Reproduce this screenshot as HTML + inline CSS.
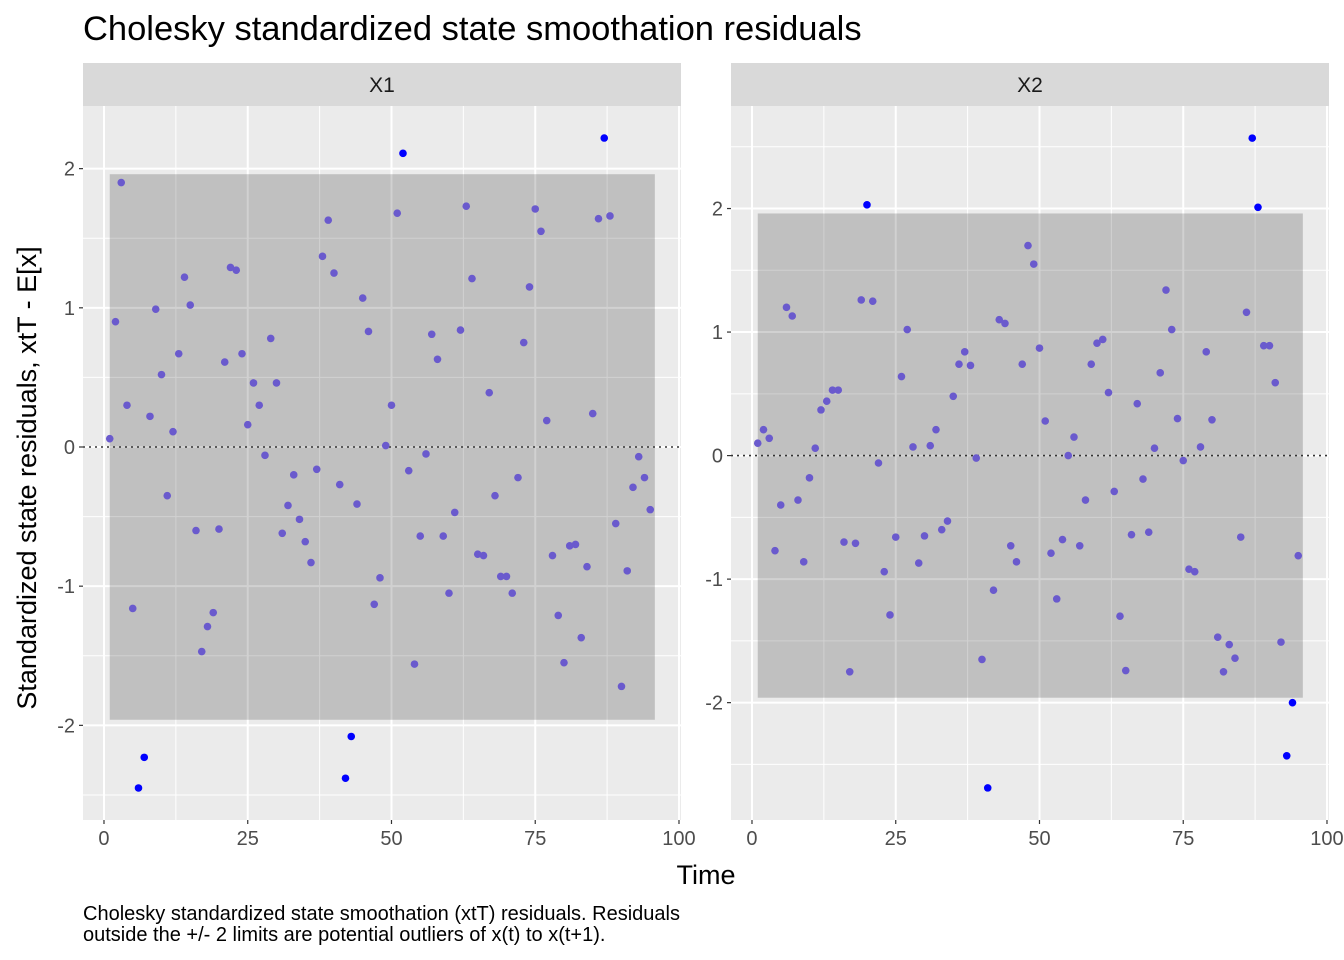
<!DOCTYPE html>
<html><head><meta charset="utf-8"><style>
body{margin:0;background:#fff;}
svg{display:block;font-family:"Liberation Sans",Arial,sans-serif;}
</style></head><body>
<svg id="chart" width="1344" height="960">
<text x="83" y="40" font-size="34.5" fill="#000">Cholesky standardized state smoothation residuals</text>
<text transform="translate(36,478) rotate(-90)" text-anchor="middle" font-size="27" fill="#000">Standardized state residuals, xtT - E[x]</text>
<text x="706" y="884" text-anchor="middle" font-size="27" fill="#000">Time</text>
<text x="83" y="920" font-size="20" fill="#000">Cholesky standardized state smoothation (xtT) residuals. Residuals</text>
<text x="83" y="941" font-size="20" fill="#000">outside the +/- 2 limits are potential outliers of x(t) to x(t+1).</text>
<g id="panels"></g>
</svg>
<script>
const xTicks=[0,25,50,75,100];
const x1Values=[0.06,0.90,1.90,0.30,-1.16,-2.45,-2.23,0.22,0.99,0.52,-0.35,0.11,0.67,1.22,1.02,-0.60,-1.47,-1.29,-1.19,-0.59,0.61,1.29,1.27,0.67,0.16,0.46,0.30,-0.06,0.78,0.46,-0.62,-0.42,-0.20,-0.52,-0.68,-0.83,-0.16,1.37,1.63,1.25,-0.27,-2.38,-2.08,-0.41,1.07,0.83,-1.13,-0.94,0.01,0.30,1.68,2.11,-0.17,-1.56,-0.64,-0.05,0.81,0.63,-0.64,-1.05,-0.47,0.84,1.73,1.21,-0.77,-0.78,0.39,-0.35,-0.93,-0.93,-1.05,-0.22,0.75,1.15,1.71,1.55,0.19,-0.78,-1.21,-1.55,-0.71,-0.70,-1.37,-0.86,0.24,1.64,2.22,1.66,-0.55,-1.72,-0.89,-0.29,-0.07,-0.22,-0.45];
const x2Values=[0.10,0.21,0.14,-0.77,-0.40,1.20,1.13,-0.36,-0.86,-0.18,0.06,0.37,0.44,0.53,0.53,-0.70,-1.75,-0.71,1.26,2.03,1.25,-0.06,-0.94,-1.29,-0.66,0.64,1.02,0.07,-0.87,-0.65,0.08,0.21,-0.60,-0.53,0.48,0.74,0.84,0.73,-0.02,-1.65,-2.69,-1.09,1.10,1.07,-0.73,-0.86,0.74,1.70,1.55,0.87,0.28,-0.79,-1.16,-0.68,0.00,0.15,-0.73,-0.36,0.74,0.91,0.94,0.51,-0.29,-1.30,-1.74,-0.64,0.42,-0.19,-0.62,0.06,0.67,1.34,1.02,0.30,-0.04,-0.92,-0.94,0.07,0.84,0.29,-1.47,-1.75,-1.53,-1.64,-0.66,1.16,2.57,2.01,0.89,0.89,0.59,-1.51,-2.43,-2.00,-0.81];
const yTicks=[-2,-1,0,1,2];
const limit=1.96;
const panelNames=["X1","X2"];
const NS="http://www.w3.org/2000/svg";
const gRoot=document.getElementById('panels');
function mk(tag,attrs,parent){const e=document.createElementNS(NS,tag);for(const k in attrs)e.setAttribute(k,attrs[k]);(parent||gRoot).appendChild(e);return e;}
const panels=[{left:83,right:681,yMin:-2.68,yMax:2.45,vals:x1Values},{left:731,right:1329,yMin:-2.95,yMax:2.83,vals:x2Values}];
const plotTop=106,plotBottom=820,xMin=-3.65,xMax=100.35;
panels.forEach((p,pi)=>{
  const sx=v=>p.left+(v-xMin)/(xMax-xMin)*(p.right-p.left);
  const sy=v=>plotBottom-(v-p.yMin)/(p.yMax-p.yMin)*(plotBottom-plotTop);
  const pg=mk('g',{});
  
  
  const bg=mk('rect',{x:p.left,y:plotTop,width:p.right-p.left,height:plotBottom-plotTop,fill:'#ebebeb'},pg);
  
  
  const strip=mk('rect',{x:p.left,y:63,width:p.right-p.left,height:43,fill:'#d9d9d9'},pg);
  
  
  const st=mk('text',{x:(p.left+p.right)/2,y:92,'text-anchor':'middle','font-size':'21',fill:'#1a1a1a'},pg);
  st.textContent=panelNames[pi];
  
  
  for(let i=0;i<xTicks.length-1;i++){const v=(xTicks[i]+xTicks[i+1])/2;
    const l=mk('line',{x1:sx(v),x2:sx(v),y1:plotTop,y2:plotBottom,stroke:'#fff','stroke-width':1},pg);
    
    }
  const ym=[-2.5,-1.5,-0.5,0.5,1.5,2.5];
  ym.forEach(v=>{if(v<p.yMin||v>p.yMax)return;
    const l=mk('line',{x1:p.left,x2:p.right,y1:sy(v),y2:sy(v),stroke:'#fff','stroke-width':1},pg);
    
    });
  xTicks.forEach(v=>{
    const l=mk('line',{x1:sx(v),x2:sx(v),y1:plotTop,y2:plotBottom,stroke:'#fff','stroke-width':2},pg);
    
    
    const tk=mk('line',{x1:sx(v),x2:sx(v),y1:plotBottom,y2:plotBottom+4,stroke:'#333','stroke-width':1.2},pg);
    
    
    const t=mk('text',{x:sx(v),y:plotBottom+25,'text-anchor':'middle','font-size':'20',fill:'#4d4d4d'},pg);
    t.textContent=v;
    
    
  });
  yTicks.forEach(v=>{
    const l=mk('line',{x1:p.left,x2:p.right,y1:sy(v),y2:sy(v),stroke:'#fff','stroke-width':2},pg);
    
    
    const tk=mk('line',{x1:p.left-4,x2:p.left,y1:sy(v),y2:sy(v),stroke:'#333','stroke-width':1.2},pg);
    
    
    const t=mk('text',{x:p.left-8,y:sy(v)+7,'text-anchor':'end','font-size':'20',fill:'#4d4d4d'},pg);
    t.textContent=v;
    
    
  });
  const n=p.vals.length;
  const rb=mk('rect',{x:sx(1),y:sy(limit),width:sx(n+0.8)-sx(1),height:sy(-limit)-sy(limit),fill:'#000','fill-opacity':0.18},pg);
  
  
  const zl=mk('line',{x1:p.left,x2:p.right,y1:sy(0),y2:sy(0),stroke:'#333','stroke-width':1.6,'stroke-dasharray':'2,4'},pg);
  
  
  p.vals.forEach((v,i)=>{
    const out=Math.abs(v)>limit;
    const c=mk('circle',{cx:sx(i+1),cy:sy(v),r:3.8,fill:out?'#0000ff':'#6a5acd'},pg);
    
    
  });
});
</script>
</body></html>
